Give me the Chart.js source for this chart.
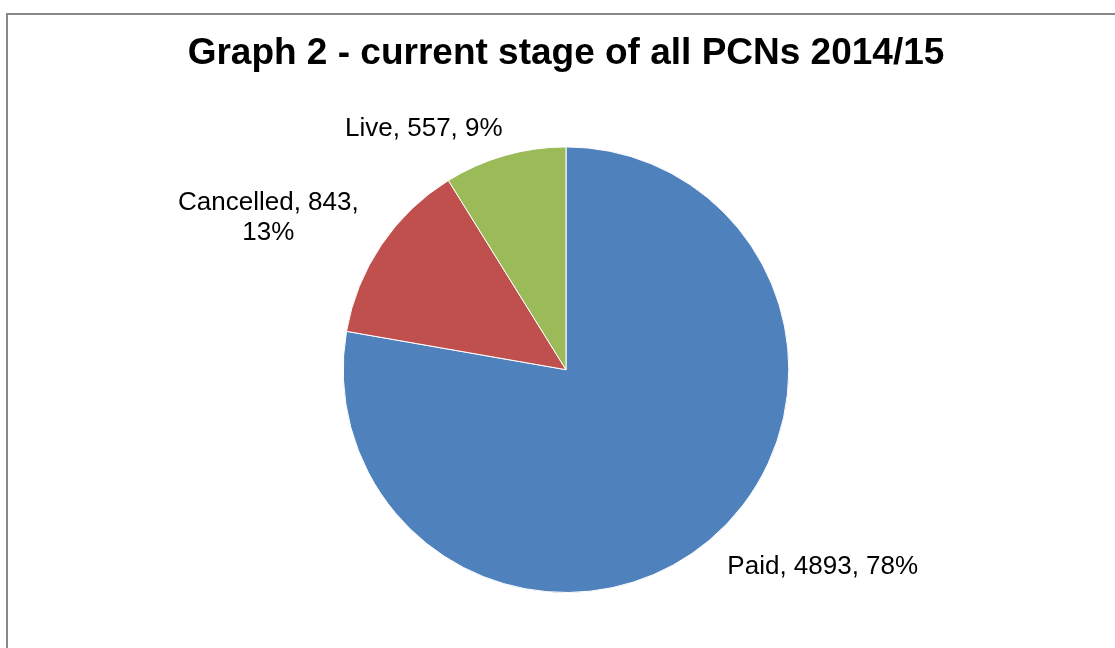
<!DOCTYPE html>
<html lang="en">
<head>
    <meta charset="UTF-8">
    <title>Graph 2 - current stage of all PCNs 2014/15</title>
    <script src="https://cdn.jsdelivr.net/npm/chart.js@4.4.0/dist/chart.umd.min.js"></script>
    <style>
        html, body {
            margin: 0;
            padding: 0;
            background: #ffffff;
            overflow: hidden;
        }
        #frame {
            position: absolute;
            left: 6px;
            top: 13px;
            width: 1200px;
            height: 700px;
            border: 2px solid #888888;
            box-sizing: border-box;
        }
        #pieChart {
            position: absolute;
            left: 0;
            top: 0;
        }
    </style>
</head>
<body>
    <div id="frame"></div>
    <canvas id="pieChart" width="1115" height="648"></canvas>

    <script>
        // Data
        const categories = ['Paid', 'Cancelled', 'Live'];
        const counts = [4893, 843, 557];
        const colours = ['#4F81BD', '#C0504D', '#9BBB59'];
        const wrapAfterValue = [false, true, false];

        // Label placement relative to the outer edge of each slice
        const labelShift = [[18, 27, 'left'], [-113, -27, 'center'], [-81, -27, 'center']];

        const total = counts.reduce((a, b) => a + b, 0);

        function labelLines(i) {
            const pct = Math.round(counts[i] / total * 100) + '%';
            if (wrapAfterValue[i]) {
                return [categories[i] + ', ' + counts[i] + ',', pct];
            }
            return [categories[i] + ', ' + counts[i] + ', ' + pct];
        }

        const sliceLabels = {
            id: 'sliceLabels',
            afterDatasetsDraw(chart) {
                const ctx = chart.ctx;
                const meta = chart.getDatasetMeta(0);
                ctx.save();
                ctx.font = '26px "Liberation Sans", Arial, sans-serif';
                ctx.fillStyle = '#000000';
                ctx.textBaseline = 'middle';
                meta.data.forEach((arc, i) => {
                    const p = arc.getProps(['x', 'y', 'startAngle', 'endAngle', 'outerRadius'], true);
                    const mid = (p.startAngle + p.endAngle) / 2;
                    const ex = p.x + Math.cos(mid) * p.outerRadius;
                    const ey = p.y + Math.sin(mid) * p.outerRadius;
                    const [dx, dy, align] = labelShift[i];
                    const lines = labelLines(i);
                    const lh = 30;
                    ctx.textAlign = align;
                    let y = ey + dy - (lines.length - 1) * lh / 2;
                    lines.forEach(line => {
                        ctx.fillText(line, ex + dx, y);
                        y += lh;
                    });
                });
                ctx.restore();
            }
        };

        new Chart(document.getElementById('pieChart'), {
            type: 'pie',
            data: {
                labels: categories,
                datasets: [{
                    data: counts,
                    backgroundColor: colours,
                    borderColor: '#ffffff',
                    borderWidth: 1
                }]
            },
            options: {
                responsive: false,
                animation: false,
                layout: {
                    padding: { left: 17, right: 0, top: 0, bottom: 55 }
                },
                plugins: {
                    legend: { display: false },
                    tooltip: { enabled: false },
                    title: {
                        display: true,
                        text: 'Graph 2 - current stage of all PCNs 2014/15',
                        color: '#000000',
                        font: { family: '"Liberation Sans", Arial, sans-serif', size: 37, weight: 'bold', lineHeight: 1.2 },
                        padding: { top: 32, bottom: 70 }
                    }
                }
            },
            plugins: [sliceLabels]
        });
    </script>
</body>
</html>
